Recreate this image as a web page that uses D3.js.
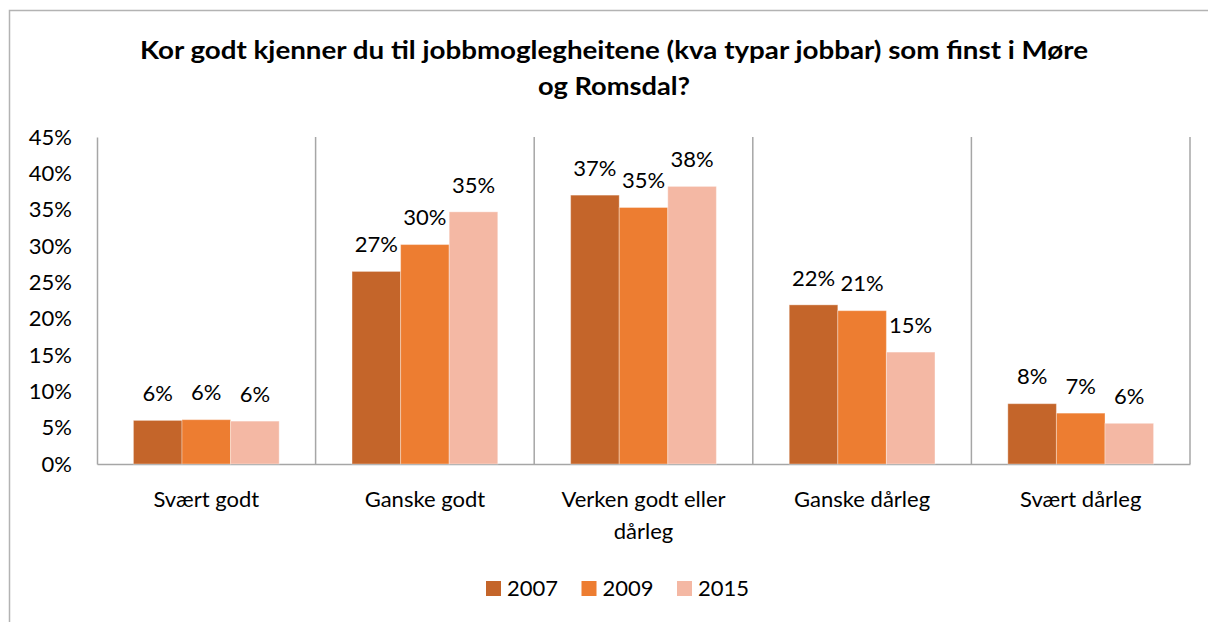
<!DOCTYPE html>
<html>
<head>
<meta charset="utf-8">
<script src="https://cdn.jsdelivr.net/npm/d3@7"></script>
<style>
  body { margin: 0; background: #fff; }
  svg, svg text { font-family: Lato, "Open Sans", sans-serif; }
</style>
</head>
<body>
<div class="chart"></div>
<script>
// data
var categories = ["Svært godt", "Ganske godt", "Verken godt eller dårleg", "Ganske dårleg", "Svært dårleg"];
var years = ["2007", "2009", "2015"];
var values2007 = [0.060, 0.265, 0.370, 0.219, 0.083];
var values2009 = [0.061, 0.302, 0.353, 0.211, 0.070];
var values2015 = [0.059, 0.347, 0.382, 0.154, 0.056];
var colors = ["#C4652A", "#ED7D31", "#F4B8A4"];
var yTicks = [0, 0.05, 0.10, 0.15, 0.20, 0.25, 0.30, 0.35, 0.40, 0.45];
var titleLines = ["Kor godt kjenner du til jobbmoglegheitene (kva typar jobbar) som finst i Møre", "og Romsdal?"];
var titleWidths = [948, 152];

var series = [values2007, values2009, values2015];

var W = 1208, H = 622;
var margin = {top: 137, right: 18, bottom: 158, left: 97};
var width = 1190 - margin.left,
    height = 464 - margin.top;

var svg = d3.select(".chart").append("svg")
    .attr("width", W)
    .attr("height", H);

// outer chart border
svg.append("path")
    .attr("d", "M9.5," + H + "V10.5H" + W)
    .attr("fill", "none")
    .attr("stroke", "#b3b3b3")
    .attr("stroke-width", 1.5);

// title
svg.append("text")
    .attr("text-anchor", "middle")
    .attr("font-weight", "bold")
    .attr("font-size", 25)
    .attr("fill", "#000")
    .selectAll("tspan")
    .data(titleLines)
    .enter().append("tspan")
    .attr("x", 614)
    .attr("y", function(d, i) { return 59 + i * 36; })
    .attr("textLength", function(d, i) { return titleWidths[i]; })
    .attr("lengthAdjust", "spacingAndGlyphs")
    .text(function(d) { return d; });

var g = svg.append("g")
    .attr("transform", "translate(" + margin.left + "," + margin.top + ")");

// scales
var x0 = d3.scaleBand()
    .domain(categories)
    .range([0, width])
    .paddingInner(0)
    .paddingOuter(0);

var x1 = d3.scaleBand()
    .domain(years)
    .range([0, x0.bandwidth()])
    .paddingInner(0)
    .paddingOuter(0.75);

var y = d3.scaleLinear()
    .domain([0, 0.45])
    .range([height, 0]);

// y axis
var yAxis = g.append("g")
    .attr("font-family", null)
    .call(d3.axisLeft(y)
        .tickValues(yTicks)
        .tickSize(0)
        .tickPadding(25)
        .tickFormat(d3.format(".0%")));
yAxis.attr("font-family", null).attr("font-size", null);
yAxis.select(".domain").attr("stroke", "#a6a6a6").attr("stroke-width", 1.5);
yAxis.selectAll("text").attr("font-size", 22).attr("fill", "#000");

// category separators
g.selectAll(".sep")
    .data(categories)
    .enter().append("line")
    .attr("class", "sep")
    .attr("x1", function(d) { return x0(d) + x0.bandwidth(); })
    .attr("x2", function(d) { return x0(d) + x0.bandwidth(); })
    .attr("y1", 0)
    .attr("y2", height)
    .attr("stroke", "#a6a6a6")
    .attr("stroke-width", 1.5);

// x axis
var xAxis = g.append("g")
    .attr("transform", "translate(0," + height + ")")
    .call(d3.axisBottom(x0).tickSize(0).tickPadding(27));
xAxis.attr("font-family", null).attr("font-size", null);
xAxis.select(".domain").attr("stroke", "#a6a6a6").attr("stroke-width", 1.5);
xAxis.selectAll("text")
    .attr("font-size", 22)
    .attr("fill", "#000")
    .call(wrap, x0.bandwidth() - 20);

// bars
var groups = g.selectAll(".cat")
    .data(categories)
    .enter().append("g")
    .attr("class", "cat")
    .attr("transform", function(d) { return "translate(" + x0(d) + ",0)"; });

groups.selectAll("rect")
    .data(function(d, i) {
        return years.map(function(yr, j) { return {year: yr, value: series[j][i], color: colors[j]}; });
    })
    .enter().append("rect")
    .attr("x", function(d) { return x1(d.year); })
    .attr("y", function(d) { return y(d.value); })
    .attr("width", x1.bandwidth())
    .attr("height", function(d) { return height - y(d.value); })
    .attr("fill", function(d) { return d.color; })
    .attr("stroke", "#fff")
    .attr("stroke-opacity", 0.35)
    .attr("stroke-width", 1);

// value labels
groups.selectAll(".lbl")
    .data(function(d, i) {
        return years.map(function(yr, j) { return {year: yr, value: series[j][i]}; });
    })
    .enter().append("text")
    .attr("class", "lbl")
    .attr("x", function(d) { return x1(d.year) + x1.bandwidth() / 2; })
    .attr("y", function(d) { return y(d.value) - 27; })
    .attr("dy", "0.35em")
    .attr("text-anchor", "middle")
    .attr("font-size", 22)
    .text(function(d) { return d3.format(".0%")(d.value); });

// legend
var legend = svg.append("g")
    .attr("transform", "translate(486,581)");
var item = legend.selectAll(".leg")
    .data(years)
    .enter().append("g")
    .attr("class", "leg")
    .attr("transform", function(d, i) { return "translate(" + (i * 95.5) + ",0)"; });
item.append("rect")
    .attr("width", 15)
    .attr("height", 15)
    .attr("fill", function(d, i) { return colors[i]; });
item.append("text")
    .attr("x", 21)
    .attr("y", 7.5)
    .attr("dy", "0.35em")
    .attr("font-size", 22)
    .text(function(d) { return d; });

function wrap(text, w) {
    text.each(function() {
        var t = d3.select(this),
            words = t.text().split(/\s+/).reverse(),
            word, line = [], lineNumber = 0,
            lineHeight = 32,
            yy = +t.attr("y"),
            dy = parseFloat(t.attr("dy")),
            tspan = t.text(null).append("tspan").attr("x", 0).attr("y", yy).attr("dy", dy + "em");
        while (word = words.pop()) {
            line.push(word);
            tspan.text(line.join(" "));
            if (tspan.node().getComputedTextLength() > w && line.length > 1) {
                line.pop();
                tspan.text(line.join(" "));
                line = [word];
                lineNumber++;
                tspan = t.append("tspan").attr("x", 0)
                    .attr("y", yy + lineNumber * lineHeight)
                    .attr("dy", dy + "em")
                    .text(word);
            }
        }
    });
}
</script>
</body>
</html>
